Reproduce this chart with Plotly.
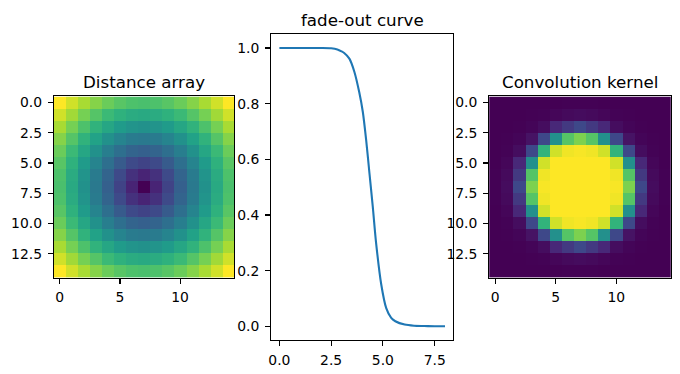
import plotly.graph_objects as go

# ---------------- data ----------------
distance = [
    [9.90, 9.22, 8.60, 8.06, 7.62, 7.28, 7.07, 7.00, 7.07, 7.28, 7.62, 8.06, 8.60, 9.22, 9.90],
    [9.22, 8.49, 7.81, 7.21, 6.71, 6.32, 6.08, 6.00, 6.08, 6.32, 6.71, 7.21, 7.81, 8.49, 9.22],
    [8.60, 7.81, 7.07, 6.40, 5.83, 5.39, 5.10, 5.00, 5.10, 5.39, 5.83, 6.40, 7.07, 7.81, 8.60],
    [8.06, 7.21, 6.40, 5.66, 5.00, 4.47, 4.12, 4.00, 4.12, 4.47, 5.00, 5.66, 6.40, 7.21, 8.06],
    [7.62, 6.71, 5.83, 5.00, 4.24, 3.61, 3.16, 3.00, 3.16, 3.61, 4.24, 5.00, 5.83, 6.71, 7.62],
    [7.28, 6.32, 5.39, 4.47, 3.61, 2.83, 2.24, 2.00, 2.24, 2.83, 3.61, 4.47, 5.39, 6.32, 7.28],
    [7.07, 6.08, 5.10, 4.12, 3.16, 2.24, 1.41, 1.00, 1.41, 2.24, 3.16, 4.12, 5.10, 6.08, 7.07],
    [7.00, 6.00, 5.00, 4.00, 3.00, 2.00, 1.00, 0.00, 1.00, 2.00, 3.00, 4.00, 5.00, 6.00, 7.00],
    [7.07, 6.08, 5.10, 4.12, 3.16, 2.24, 1.41, 1.00, 1.41, 2.24, 3.16, 4.12, 5.10, 6.08, 7.07],
    [7.28, 6.32, 5.39, 4.47, 3.61, 2.83, 2.24, 2.00, 2.24, 2.83, 3.61, 4.47, 5.39, 6.32, 7.28],
    [7.62, 6.71, 5.83, 5.00, 4.24, 3.61, 3.16, 3.00, 3.16, 3.61, 4.24, 5.00, 5.83, 6.71, 7.62],
    [8.06, 7.21, 6.40, 5.66, 5.00, 4.47, 4.12, 4.00, 4.12, 4.47, 5.00, 5.66, 6.40, 7.21, 8.06],
    [8.60, 7.81, 7.07, 6.40, 5.83, 5.39, 5.10, 5.00, 5.10, 5.39, 5.83, 6.40, 7.07, 7.81, 8.60],
    [9.22, 8.49, 7.81, 7.21, 6.71, 6.32, 6.08, 6.00, 6.08, 6.32, 6.71, 7.21, 7.81, 8.49, 9.22],
    [9.90, 9.22, 8.60, 8.06, 7.62, 7.28, 7.07, 7.00, 7.07, 7.28, 7.62, 8.06, 8.60, 9.22, 9.90],
]

curve_x = [0.0, 0.5, 1.0, 1.5, 2.0, 2.5, 2.8, 3.0, 3.13, 3.38, 3.62, 3.86, 4.03, 4.19,
           4.35, 4.51, 4.67, 4.92, 5.16, 5.4, 5.6, 6.05, 6.5, 7.0, 7.5, 8.0]
curve_y = [1.0, 1.0, 1.0, 1.0, 1.0, 0.999, 0.995, 0.988, 0.982, 0.962, 0.915, 0.84, 0.77, 0.67,
           0.55, 0.43, 0.30, 0.15, 0.065, 0.03, 0.018, 0.006, 0.002, 0.001, 0.0, 0.0]

kernel = [
    [0, 0, 0, 0, 0, 0.001, 0.002, 0.003, 0.002, 0.001, 0, 0, 0, 0, 0],
    [0, 0, 0, 0.002, 0.006, 0.015, 0.025, 0.03, 0.025, 0.015, 0.006, 0.002, 0, 0, 0],
    [0, 0, 0.002, 0.012, 0.035, 0.11, 0.17, 0.22, 0.17, 0.11, 0.035, 0.012, 0.002, 0, 0],
    [0, 0.002, 0.012, 0.05, 0.22, 0.50, 0.73, 0.80, 0.73, 0.50, 0.22, 0.05, 0.012, 0.002, 0],
    [0, 0.006, 0.035, 0.22, 0.65, 0.93, 0.98, 0.99, 0.98, 0.93, 0.65, 0.22, 0.035, 0.006, 0],
    [0.001, 0.015, 0.11, 0.50, 0.93, 1.0, 1.0, 1.0, 1.0, 1.0, 0.93, 0.50, 0.11, 0.015, 0.001],
    [0.002, 0.025, 0.17, 0.73, 0.98, 1.0, 1.0, 1.0, 1.0, 1.0, 0.98, 0.73, 0.17, 0.025, 0.002],
    [0.003, 0.03, 0.22, 0.80, 0.99, 1.0, 1.0, 1.0, 1.0, 1.0, 0.99, 0.80, 0.22, 0.03, 0.003],
    [0.002, 0.025, 0.17, 0.73, 0.98, 1.0, 1.0, 1.0, 1.0, 1.0, 0.98, 0.73, 0.17, 0.025, 0.002],
    [0.001, 0.015, 0.11, 0.50, 0.93, 1.0, 1.0, 1.0, 1.0, 1.0, 0.93, 0.50, 0.11, 0.015, 0.001],
    [0, 0.006, 0.035, 0.22, 0.65, 0.93, 0.98, 0.99, 0.98, 0.93, 0.65, 0.22, 0.035, 0.006, 0],
    [0, 0.002, 0.012, 0.05, 0.22, 0.50, 0.73, 0.80, 0.73, 0.50, 0.22, 0.05, 0.012, 0.002, 0],
    [0, 0, 0.002, 0.012, 0.035, 0.11, 0.17, 0.22, 0.17, 0.11, 0.035, 0.012, 0.002, 0, 0],
    [0, 0, 0, 0.002, 0.006, 0.015, 0.025, 0.03, 0.025, 0.015, 0.006, 0.002, 0, 0, 0],
    [0, 0, 0, 0, 0, 0.001, 0.002, 0.003, 0.002, 0.001, 0, 0, 0, 0, 0],
]

grid_idx = list(range(15))
img_xticks = [0, 5, 10]
img_yticks = [0, 2.5, 5, 7.5, 10, 12.5]
img_yticklabels = ["0.0", "2.5", "5.0", "7.5", "10.0", "12.5"]
curve_xticks = [0, 2.5, 5, 7.5]
curve_xticklabels = ["0.0", "2.5", "5.0", "7.5"]
curve_yticks = [0, 0.2, 0.4, 0.6, 0.8, 1.0]
curve_yticklabels = ["0.0", "0.2", "0.4", "0.6", "0.8", "1.0"]
titles = ["Distance array", "fade-out curve", "Convolution kernel"]

# ---------------- layout geometry (pixels) ----------------
W, H = 680, 374
def px_x(a, b):
    return [a / W, b / W]
def px_y(top, bottom):
    return [1 - bottom / H, 1 - top / H]

ax1 = dict(x=px_x(51, 232.3), y=px_y(95, 277.3))
ax2 = dict(x=px_x(269.3, 452.3), y=px_y(32.3, 340))
ax3 = dict(x=px_x(488.3, 670.7), y=px_y(95, 277.3))

FONT = "DejaVu Sans"
TICKFONT = dict(family=FONT, size=13.9, color="#000000")

common = dict(showline=True, mirror=True, linecolor="#000000", linewidth=1.1,
              ticks="outside", ticklen=4.9, tickwidth=1.1, tickcolor="#000000",
              showgrid=False, zeroline=False, tickfont=TICKFONT, fixedrange=True)
xcommon = dict(common, ticklabelstandoff=2)
ycommon = dict(common, ticklabelstandoff=3)

fig = go.Figure()
fig.add_trace(go.Heatmap(z=distance, x=grid_idx, y=grid_idx, colorscale="Viridis",
                         showscale=False, zsmooth=False, xaxis="x", yaxis="y",
                         hoverinfo="skip"))
fig.add_trace(go.Scatter(x=curve_x, y=curve_y, mode="lines",
                         line=dict(color="#1f77b4", width=2.1, shape="spline", smoothing=0.8),
                         xaxis="x2", yaxis="y2", showlegend=False, hoverinfo="skip"))
fig.add_trace(go.Heatmap(z=kernel, x=grid_idx, y=grid_idx, colorscale="Viridis",
                         showscale=False, zsmooth=False, xaxis="x3", yaxis="y3",
                         hoverinfo="skip"))

fig.update_layout(
    width=W, height=H,
    margin=dict(l=0, r=0, t=0, b=0),
    paper_bgcolor="white", plot_bgcolor="white",
    showlegend=False,
    font=dict(family=FONT, color="#000000"),
    xaxis=dict(domain=ax1["x"], anchor="y", range=[-0.5, 14.5],
               tickvals=img_xticks, ticktext=[str(v) for v in img_xticks], **xcommon),
    yaxis=dict(domain=ax1["y"], anchor="x", range=[14.5, -0.5],
               tickvals=img_yticks, ticktext=img_yticklabels, **ycommon),
    xaxis2=dict(domain=ax2["x"], anchor="y2", range=[-0.4, 8.4],
                tickvals=curve_xticks, ticktext=curve_xticklabels, **xcommon),
    yaxis2=dict(domain=ax2["y"], anchor="x2", range=[-0.05, 1.05],
                tickvals=curve_yticks, ticktext=curve_yticklabels, **ycommon),
    xaxis3=dict(domain=ax3["x"], anchor="y3", range=[-0.5, 14.5],
                tickvals=img_xticks, ticktext=[str(v) for v in img_xticks], **xcommon),
    yaxis3=dict(domain=ax3["y"], anchor="x3", range=[14.5, -0.5],
                tickvals=img_yticks, ticktext=img_yticklabels, **ycommon),
)

for ax, t in zip([ax1, ax2, ax3], titles):
    fig.add_annotation(text=t, xref="paper", yref="paper",
                       x=(ax["x"][0] + ax["x"][1]) / 2, y=ax["y"][1],
                       xanchor="center", yanchor="bottom", yshift=2.5, showarrow=False,
                       font=dict(family=FONT, size=16.7, color="#000000"))

fig.write_html("out.html", config={"displayModeBar": False, "staticPlot": True},
               post_script="document.body.style.margin='0';document.body.style.padding='0';")
